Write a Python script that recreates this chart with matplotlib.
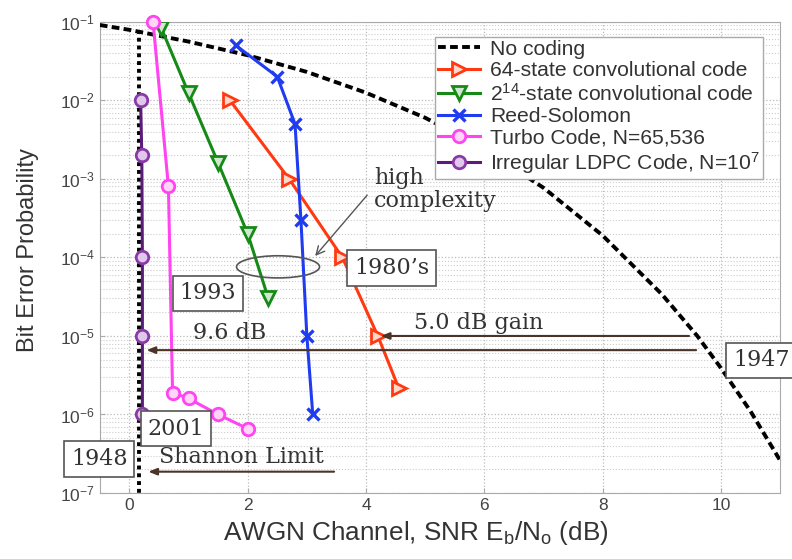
import matplotlib
matplotlib.use("Agg")
import matplotlib.pyplot as plt
from matplotlib.patches import Ellipse

plt.rcParams['font.family'] = ['Liberation Sans', 'DejaVu Sans']
plt.rcParams['mathtext.fontset'] = 'custom'
plt.rcParams['mathtext.rm'] = 'Liberation Sans'
plt.rcParams['mathtext.it'] = 'Liberation Sans:italic'
plt.rcParams['mathtext.bf'] = 'Liberation Sans:bold'

# values
snr_uncoded = [-0.5, 0, 1, 2, 3, 4, 5, 6, 7, 8, 9, 9.6, 10, 10.5, 11]
ber_uncoded = [0.091, 0.079, 0.056, 0.0375, 0.023, 0.0125, 0.006, 0.0024,
               7.7e-4, 1.9e-4, 3.4e-5, 1e-5, 3.9e-6, 1.1e-6, 2.6e-7]

snr_conv64 = [1.7, 2.7, 3.6, 4.2, 4.55]
ber_conv64 = [1e-2, 1e-3, 1e-4, 1e-5, 2.2e-6]

snr_conv214 = [0.54, 1.0, 1.5, 2.0, 2.35]
ber_conv214 = [0.083, 0.0124, 1.6e-3, 2e-4, 3e-5]

snr_rs = [1.8, 2.5, 2.8, 2.9, 3.0, 3.1]
ber_rs = [0.05, 0.02, 5e-3, 3e-4, 1e-5, 1e-6]

snr_turbo = [0.4, 0.66, 0.73, 1.0, 1.5, 2.0]
ber_turbo = [0.1, 8e-4, 1.9e-6, 1.6e-6, 1e-6, 6.6e-7]

snr_ldpc = [0.19, 0.21, 0.22, 0.22, 0.22]
ber_ldpc = [1e-2, 2e-3, 1e-4, 1e-5, 1e-6]

shannon_x = [0.17, 0.17]
shannon_y = [0.079, 1e-7]

fig = plt.figure(figsize=(7.92, 5.59), dpi=100)
ax = fig.add_axes([0.126, 0.118, 0.859, 0.843])

ax.plot(snr_uncoded, ber_uncoded, color='black', lw=2.8, ls=(0, (2.0, 1.1)),
        label='No coding', zorder=4)
ax.plot(shannon_x, shannon_y, color='black', lw=2.8, ls=(0, (1, 1)), zorder=4)

ax.plot(snr_conv64, ber_conv64, color='#ff3a12', lw=2.2, marker='>', ms=10,
        mew=2, mfc='#ffd8cc', label='64-state convolutional code', zorder=5)
ax.plot(snr_conv214, ber_conv214, color='#168a16', lw=2.2, marker='v', ms=10,
        mew=2, mfc='#cfe8cf', label=r'$2^{14}$-state convolutional code', zorder=5)
ax.plot(snr_rs, ber_rs, color='#1f3cf0', lw=2.2, marker='x', ms=8,
        mew=2.4, label='Reed-Solomon', zorder=5)
ax.plot(snr_turbo, ber_turbo, color='#ff44f0', lw=2.2, marker='o', ms=9,
        mew=2, mfc='#ffd6fa', label='Turbo Code, N=65,536', zorder=5,
        clip_on=False)
ax.plot(snr_ldpc, ber_ldpc, color='#5a1c78', lw=2.2, marker='o', ms=9,
        mew=2, mec='#8a3aa8', mfc='#e0c8ea', label=r'Irregular LDPC Code, N=$10^7$',
        zorder=5)

ax.set_yscale('log')
ax.set_xlim(-0.5, 11)
ax.set_ylim(1e-7, 1e-1)
ax.set_xticks([0, 2, 4, 6, 8, 10])
ax.grid(True, which='major', color='#bbbbbb', ls=':', lw=0.9)
ax.grid(True, which='minor', axis='y', color='#cccccc', ls=':', lw=0.8)
for s in ax.spines.values():
    s.set_color('#aaaaaa')
ax.tick_params(which='both', direction='in', colors='#aaaaaa',
               labelcolor='#444444', labelsize=12.5)
ax.tick_params(which='minor', length=0)

ax.set_xlabel(r'AWGN Channel, SNR E$_\mathrm{b}$/N$_\mathrm{o}$ (dB)',
              fontsize=18.8, color='#333333')
ax.xaxis.set_label_coords(0.465, -0.055)
ax.set_ylabel('Bit Error Probability', fontsize=17, color='#333333')
ax.yaxis.set_label_coords(-0.09, 0.515)

leg = ax.legend(loc='upper right', bbox_to_anchor=(0.99, 0.99), fontsize=15.2,
                labelspacing=0.12, handlelength=2.0, handletextpad=0.5,
                borderpad=0.12, fancybox=False, framealpha=1, edgecolor='#aaaaaa')
leg.get_frame().set_linewidth(1.0)
for t in leg.get_texts():
    t.set_color('#333333')

serif = dict(family=['DejaVu Serif'], fontsize=16, color='#333333')
box = dict(boxstyle='square,pad=0.3', fc='white', ec='#555555', lw=1.2)
arrow = dict(arrowstyle='-|>,head_length=0.5,head_width=0.2', color='#4a3428',
             lw=1.5, shrinkA=0, shrinkB=0)

ax.text(4.14, 7.4e-4, 'high\ncomplexity', ha='left', va='center',
        linespacing=1.05, zorder=6, **serif)
ax.annotate('', xy=(3.11, 9.8e-5), xytext=(4.05, 6.6e-4), arrowprops=dict(
    arrowstyle='->,head_length=0.6,head_width=0.3', color='#555555', lw=1.0),
    zorder=6)
ax.add_patch(Ellipse((0.262, 0.480), 0.122, 0.047, transform=ax.transAxes,
                     fill=False, ec='#555555', lw=1.2, zorder=6))

ax.text(4.43, 7.3e-5, "1980’s", ha='center', va='center', bbox=box, zorder=7, **serif)
ax.text(1.33, 3.5e-5, '1993', ha='center', va='center', bbox=box, zorder=7, **serif)
ax.text(0.79, 6.6e-7, '2001', ha='center', va='center', bbox=box, zorder=7, **serif)
ax.text(-0.51, 2.7e-7, '1948', ha='center', va='center', bbox=box, zorder=7,
        clip_on=False, **serif)
ax.text(10.68, 4.9e-6, '1947', ha='center', va='center', bbox=box, zorder=7,
        clip_on=False, **serif)

ax.text(1.69, 1.1e-5, '9.6 dB', ha='center', va='center', zorder=6, **serif)
ax.text(5.91, 1.45e-5, '5.0 dB gain', ha='center', va='center', zorder=6, **serif)
ax.text(1.9, 2.9e-7, 'Shannon Limit', ha='center', va='center', zorder=6, **serif)

ax.annotate('', xy=(4.25, 1e-5), xytext=(9.46, 1e-5), arrowprops=arrow, zorder=6)
ax.annotate('', xy=(0.29, 6.6e-6), xytext=(9.58, 6.6e-6), arrowprops=arrow, zorder=6)
ax.annotate('', xy=(0.32, 1.87e-7), xytext=(3.46, 1.87e-7), arrowprops=arrow, zorder=6)

fig.savefig('out.png', dpi=100)
